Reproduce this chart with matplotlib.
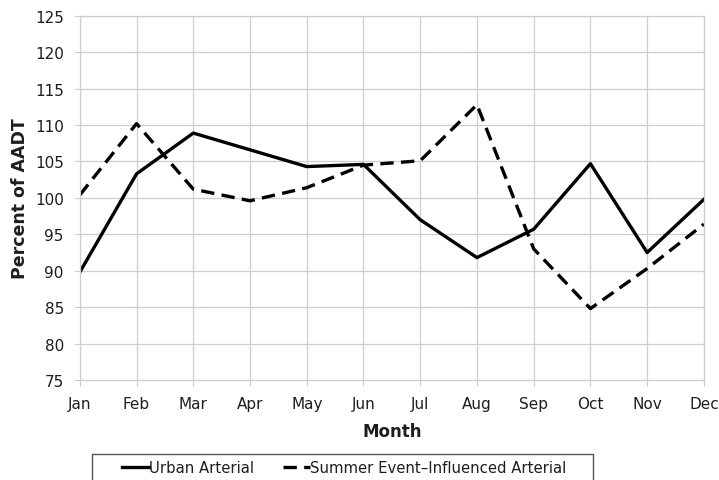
import numpy as np
import matplotlib.pyplot as plt
from matplotlib.patches import Rectangle

plt.rcParams['font.family'] = ['DejaVu Sans']

# monthly volume as percent of AADT
months = ['Jan', 'Feb', 'Mar', 'Apr', 'May', 'Jun',
          'Jul', 'Aug', 'Sep', 'Oct', 'Nov', 'Dec']
urban = [89.8, 103.3, 108.9, 106.6, 104.3, 104.6,
         97.0, 91.8, 95.7, 104.7, 92.5, 99.8]
summer = [100.4, 110.2, 101.2, 99.6, 101.4, 104.5,
          105.1, 112.8, 93.0, 84.8, 90.3, 96.4]
yticks = np.arange(75, 126, 5)

grid_col = '#d2cbd2'
text_col = '#1e1e1e'

fig = plt.figure(figsize=(7.19, 4.81), dpi=100)
ax = fig.add_axes([0.111, 0.208, 0.868, 0.757])

x = np.arange(len(months))
ax.plot(x, urban, color='black', lw=2.4, label='Urban Arterial')
ax.plot(x, summer, color='black', lw=2.4, ls=(0, (4, 2.2)),
        label='Summer Event\u2013Influenced Arterial')

ax.set_xlim(0, len(months) - 1)
ax.set_ylim(75, 125)
ax.set_xticks(x)
ax.set_xticklabels(months)
ax.set_yticks(yticks)
ax.grid(True, color=grid_col, lw=0.9)
ax.set_axisbelow(True)
for s in ax.spines.values():
    s.set_color(grid_col)
    s.set_linewidth(0.9)
ax.tick_params(colors=grid_col, labelcolor=text_col, labelsize=11,
               length=4, pad=7.5)

ax.set_xlabel('Month', fontsize=12, fontweight='bold', labelpad=8,
              color=text_col)
ax.set_ylabel('Percent of AADT', fontsize=12.5, fontweight='bold', labelpad=4,
              color=text_col)

# legend box sits at the bottom edge, partly cut off
fig.patches.append(Rectangle((92 / 719, -0.02), (593 - 92) / 719,
                             0.02 + 1 - 455 / 481, transform=fig.transFigure,
                             fill=False, edgecolor='#555555', lw=1.0))
leg = fig.legend(loc='center', bbox_to_anchor=(344 / 719, 1 - 469 / 481),
                 ncol=2, frameon=False, fontsize=10.7,
                 handlelength=1.8, handletextpad=0.0, columnspacing=2.0,
                 borderpad=0, borderaxespad=0)
for t in leg.get_texts():
    t.set_color(text_col)

fig.savefig('out.png', dpi=100)
